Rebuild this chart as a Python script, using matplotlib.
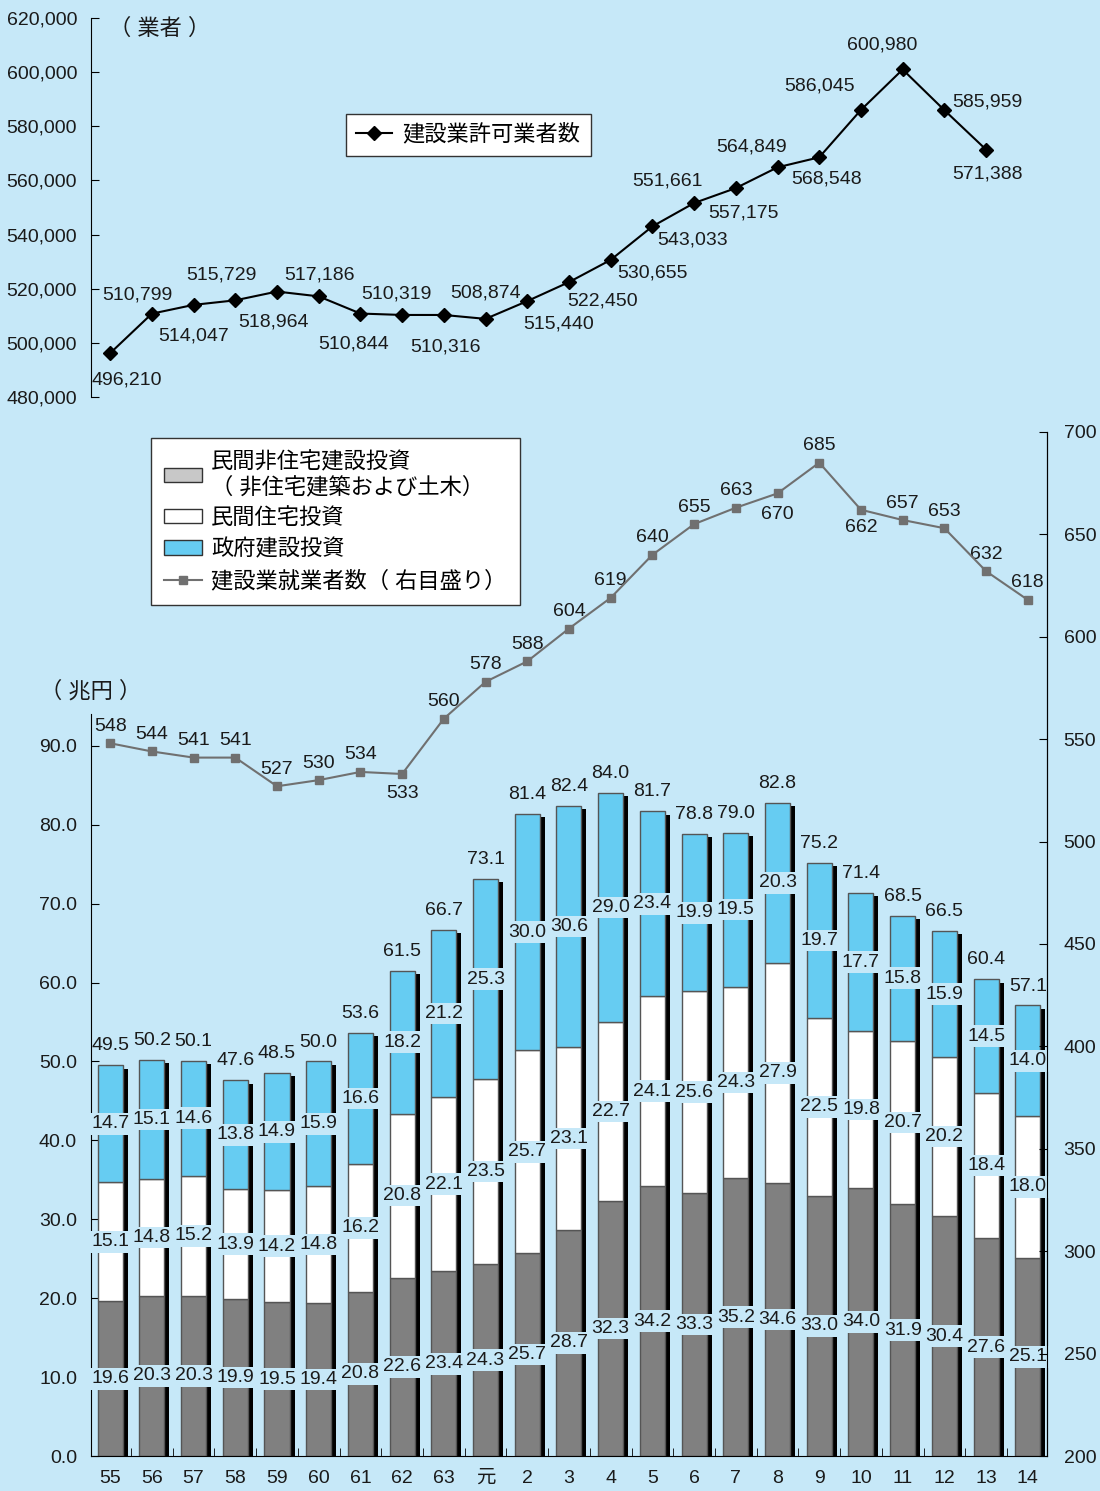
import matplotlib
matplotlib.use('Agg')
import matplotlib.pyplot as plt
from matplotlib.patches import Patch
from matplotlib.lines import Line2D
import numpy as np

plt.rcParams['font.family'] = ['Liberation Sans', 'Noto Sans CJK JP', 'DejaVu Sans']

years = ['55', '56', '57', '58', '59', '60', '61', '62', '63', '元',
         '2', '3', '4', '5', '6', '7', '8', '9', '10', '11', '12', '13', '14']

# 建設業許可業者数 (no value for 14)
permits = [496210, 510799, 514047, 515729, 518964, 517186, 510844, 510319,
           510316, 508874, 515440, 522450, 530655, 543033, 551661, 557175,
           564849, 568548, 586045, 600980, 585959, 571388]

# investment, 兆円
nonres = [19.6, 20.3, 20.3, 19.9, 19.5, 19.4, 20.8, 22.6, 23.4, 24.3, 25.7,
          28.7, 32.3, 34.2, 33.3, 35.2, 34.6, 33.0, 34.0, 31.9, 30.4, 27.6, 25.1]
housing = [15.1, 14.8, 15.2, 13.9, 14.2, 14.8, 16.2, 20.8, 22.1, 23.5, 25.7,
           23.1, 22.7, 24.1, 25.6, 24.3, 27.9, 22.5, 19.8, 20.7, 20.2, 18.4, 18.0]
gov = [14.7, 15.1, 14.6, 13.8, 14.9, 15.9, 16.6, 18.2, 21.2, 25.3, 30.0,
       30.6, 29.0, 23.4, 19.9, 19.5, 20.3, 19.7, 17.7, 15.8, 15.9, 14.5, 14.0]
totals = [49.5, 50.2, 50.1, 47.6, 48.5, 50.0, 53.6, 61.5, 66.7, 73.1, 81.4,
          82.4, 84.0, 81.7, 78.8, 79.0, 82.8, 75.2, 71.4, 68.5, 66.5, 60.4, 57.1]

# 建設業就業者数 (万人, right axis)
workers = [548, 544, 541, 541, 527, 530, 534, 533, 560, 578, 588, 604, 619,
           640, 655, 663, 670, 685, 662, 657, 653, 632, 618]

BG = '#C6E8F8'
BLUE = '#66CCF2'
GRAY = '#808080'
TXT = '#1a1a1a'
FS = 14     # numbers
FSJ = 16    # japanese text

fig = plt.figure(figsize=(11, 14.91), dpi=100, facecolor=BG)
x = np.arange(len(years))
xlim = (-0.46, len(years) - 1 + 0.46)

# ---------------- top panel ----------------
ax1 = fig.add_axes([0.0827, 0.7337, 0.9518 - 0.0827, 0.98793 - 0.7337])
ax1.set_facecolor(BG)
xp = x[:len(permits)]
ax1.plot(xp, permits, color='black', lw=1.5, marker='D', ms=7)
ax1.set_xlim(xlim)
ax1.set_ylim(480000, 620000)
ax1.set_yticks(np.arange(480000, 620001, 20000))
ax1.set_yticklabels([f'{v:,}' for v in range(480000, 620001, 20000)])
ax1.tick_params(axis='y', direction='in', length=6, labelsize=FS, pad=10,
                labelcolor=TXT)
ax1.set_xticks([])
for s in ['top', 'right', 'bottom']:
    ax1.spines[s].set_visible(False)

# label offsets in pixels (dx, dy)
top_off = [(17, -27), (-15, 19), (0, -31), (-14, 25), (-4, -30), (1, 21),
           (-7, -30), (-6, 21), (2, -32), (0, 26), (31, -23), (34, -19),
           (42, -13), (40, -14), (-27, 22), (8, -25), (-26, 20), (7, -22),
           (-41, 24), (-20, 24), (43, 8), (1, -24)]
for xi, v, (dx, dy) in zip(xp, permits, top_off):
    ax1.annotate(f'{v:,}', (xi, v), xytext=(dx * 0.72, dy * 0.72),
                 textcoords='offset points', ha='center', va='center',
                 fontsize=FS, color=TXT)

ax1.text(-0.46 + 1.65, 616000, '（ 業者 ）', fontsize=FSJ, ha='center', va='center',
         color=TXT)
fig.legend(handles=[Line2D([], [], color='black', lw=1.5, marker='D', ms=7)],
           labels=['建設業許可業者数'], loc='upper left',
           bbox_to_anchor=(0.3145, 0.9235), borderaxespad=0, fancybox=False,
           edgecolor='#333333', fontsize=FSJ, handlelength=1.6,
           handletextpad=0.5, borderpad=0.45, framealpha=1)

# ---------------- bottom panel ----------------
ax2 = fig.add_axes([0.0827, 0.02347, 0.9518 - 0.0827, 0.7103 - 0.02347])
ax2.set_facecolor(BG)
ylim_top = 1024 / 78.9 * 10
ax2.set_xlim(xlim)
ax2.set_ylim(0, ylim_top)

w = 0.6
nonres_a = np.array(nonres)
housing_a = np.array(housing)
gov_a = np.array(gov)
tot_a = np.array(totals)
# shadow
ax2.bar(x + 0.12, tot_a - 0.4, width=w, color='black', zorder=1)
ax2.bar(x, nonres_a, width=w, color=GRAY, edgecolor='#555555', lw=1, zorder=2)
ax2.bar(x, housing_a, width=w, bottom=nonres_a, color='white', edgecolor='#555555',
        lw=1, zorder=2)
ax2.bar(x, tot_a - nonres_a - housing_a, width=w, bottom=nonres_a + housing_a,
        color=BLUE, edgecolor='#555555', lw=1, zorder=2)

box = dict(boxstyle='square,pad=0.12', fc=BG, ec='none')
for i in x:
    ax2.text(i, nonres_a[i] / 2, f'{nonres[i]:.1f}', ha='center', va='center',
             fontsize=FS, bbox=box, zorder=5, color=TXT)
    ax2.text(i, nonres_a[i] + housing_a[i] / 2, f'{housing[i]:.1f}', ha='center',
             va='center', fontsize=FS, bbox=box, zorder=5, color=TXT)
    ax2.text(i, (nonres_a[i] + housing_a[i] + tot_a[i]) / 2, f'{gov[i]:.1f}',
             ha='center', va='center', fontsize=FS, bbox=box, zorder=5, color=TXT)
    ax2.annotate(f'{totals[i]:.1f}', (i, tot_a[i]), xytext=(0, 14),
                 textcoords='offset points', ha='center', va='center',
                 fontsize=FS, color=TXT)

ax2.set_yticks(np.arange(0, 91, 10))
ax2.set_yticklabels([f'{v:.1f}' for v in range(0, 91, 10)])
ax2.spines['left'].set_bounds(0, 94)
ax2.spines['top'].set_visible(False)
ax2.tick_params(axis='y', direction='in', length=6, labelsize=FS, pad=10,
                labelcolor=TXT)
ax2.set_xticks(x)
ax2.set_xticklabels(years)
ax2.set_xticks(x[:-1] + 0.5, minor=True)
ax2.tick_params(axis='x', which='major', length=0, labelsize=FS, pad=10,
                labelcolor=TXT)
ax2.tick_params(axis='x', which='minor', direction='in', length=6)
ax2.text(-0.46, 96.8, '（ 兆円 ）', fontsize=FSJ, ha='center', va='center', color=TXT)

ax3 = ax2.twinx()
ax3.set_ylim(200, 700)
ax3.set_yticks(np.arange(200, 701, 50))
ax3.tick_params(axis='y', direction='in', length=6, labelsize=FS, pad=12,
                labelcolor=TXT)
ax3.spines['top'].set_visible(False)
ax3.spines['left'].set_visible(False)
ax3.spines['bottom'].set_visible(False)
ax3.plot(x, workers, color='#707070', lw=1.5, marker='s', ms=6, zorder=6)
below = {7: -20, 16: -21, 18: -18}
for i, v in enumerate(workers):
    dy = below.get(i, 17)
    ax3.annotate(str(v), (i, v), xytext=(0, dy * 0.72), textcoords='offset points',
                 ha='center', va='center', fontsize=FS, color=TXT)

handles = [Patch(fc='#C8C8C8', ec='#333333'), Patch(fc='white', ec='#333333'),
           Patch(fc=BLUE, ec='#333333'),
           Line2D([], [], color='#707070', lw=1.5, marker='s', ms=6)]
labels = ['民間非住宅建設投資\n（ 非住宅建築および土木）', '民間住宅投資', '政府建設投資',
          '建設業就業者数（ 右目盛り）']
fig.legend(handles=handles, labels=labels, loc='upper left',
           bbox_to_anchor=(0.1373, 0.7062), borderaxespad=0, fancybox=False,
           edgecolor='#333333', fontsize=FSJ, handlelength=1.7, handleheight=0.6,
           handletextpad=0.4, borderpad=0.6, labelspacing=0.45, framealpha=1)

fig.savefig('out.png', dpi=100, facecolor=BG)
